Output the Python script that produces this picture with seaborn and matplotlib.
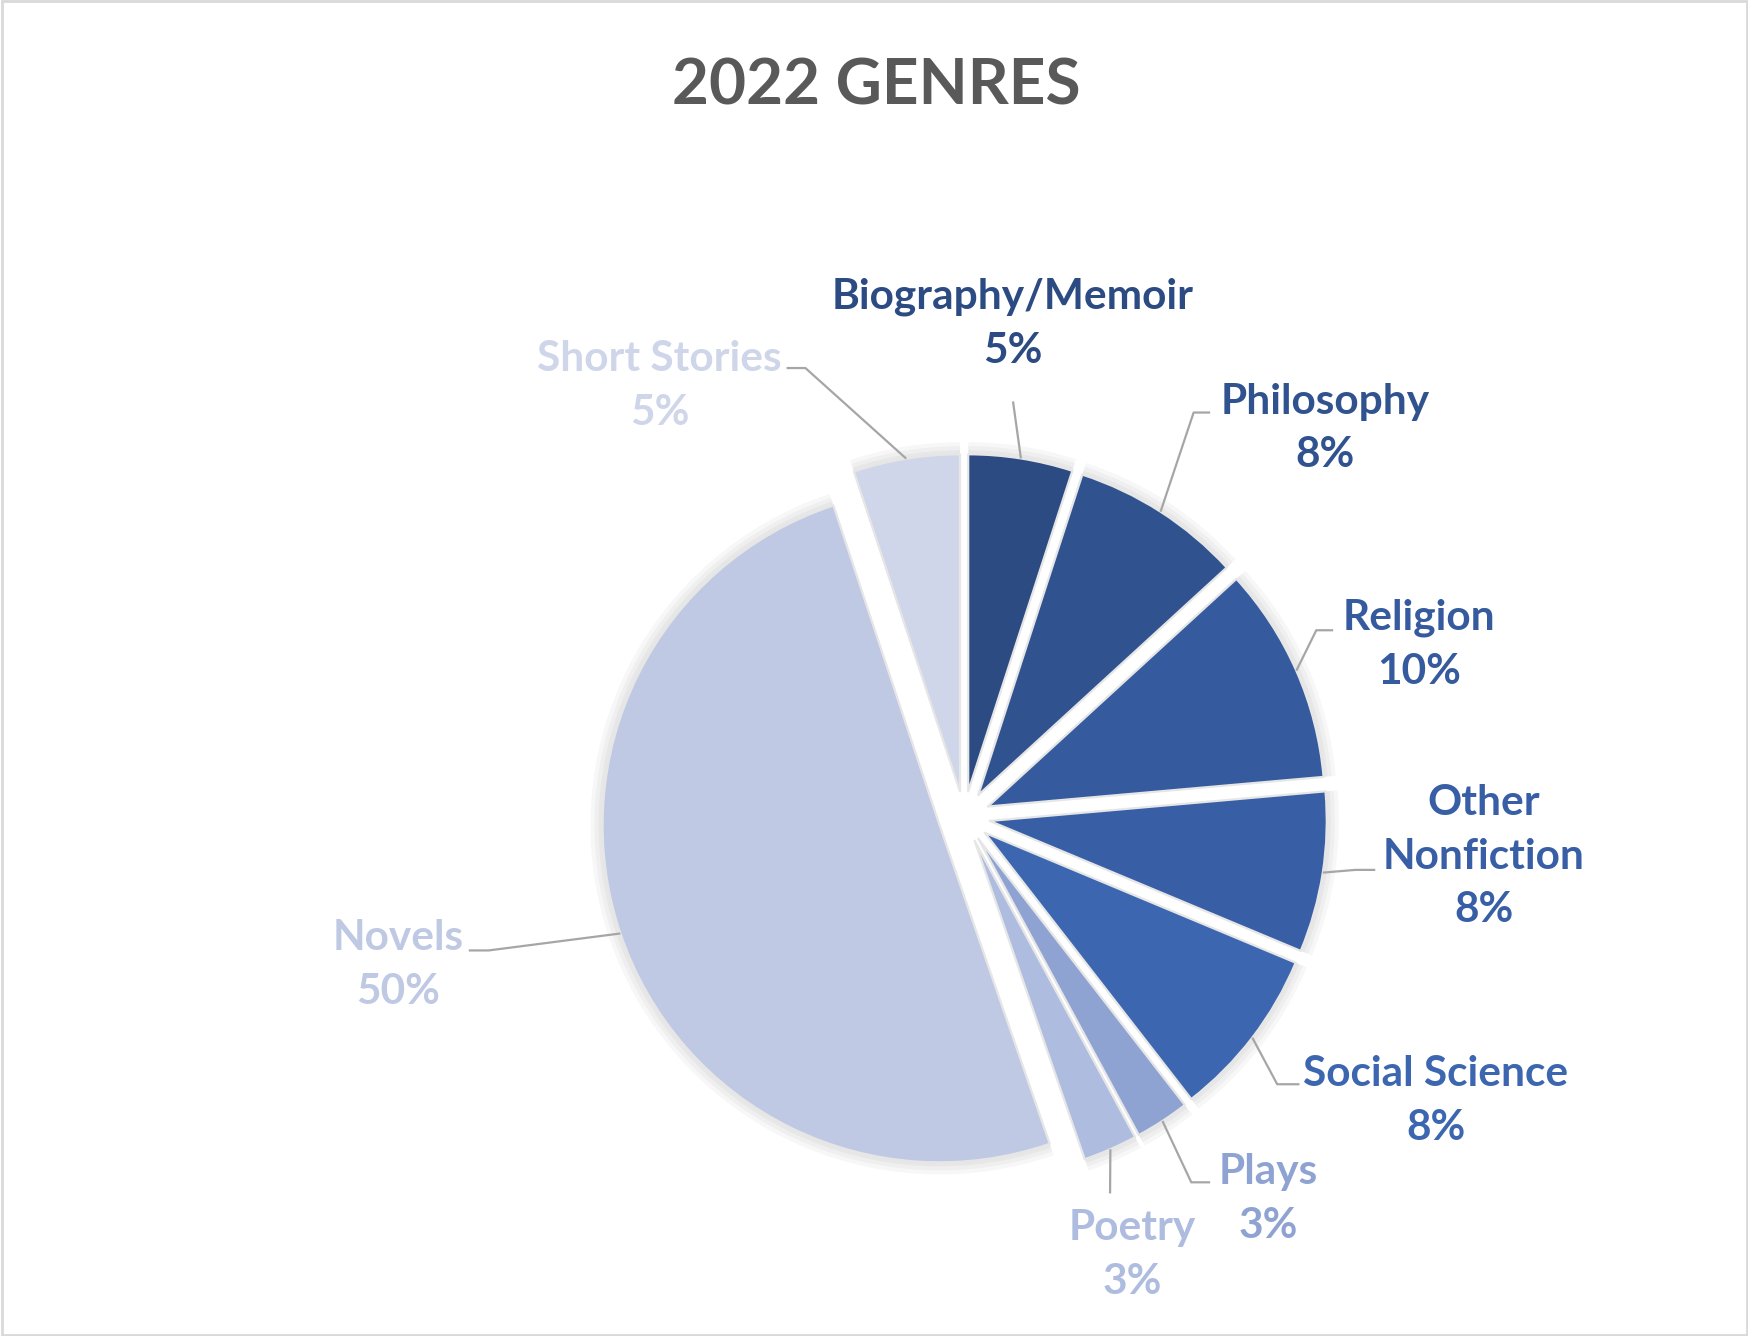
import matplotlib
matplotlib.use("Agg")
import matplotlib.pyplot as plt
import numpy as np
import seaborn as sns

# data (share of books read per genre, %)
genres = ["Biography/Memoir", "Philosophy", "Religion", "Other\nNonfiction",
          "Social Science", "Plays", "Poetry", "Novels", "Short Stories"]
shares = [5.0, 8.2, 10.4, 7.7, 8.2, 2.6, 2.6, 50.2, 5.1]

colors = ["#2b4b82", "#30538f", "#355a9e", "#385fa6", "#3c67b0",
          "#8fa3d3", "#adbcdf", "#bfc9e3", "#cfd6ea"]

# label layout in pie-radius units: text centre, elbow point, end of short horizontal run
label_pos = [(0.145, 1.464), (1.071, 1.153), (1.349, 0.511), (1.542, -0.118),
             (1.399, -0.842), (0.903, -1.134), (0.499, -1.299), (-1.679, -0.439),
             (-0.904, 1.279)]
leader_pts = [
    [(0.145, 1.233)],
    [(0.681, 1.200), (0.730, 1.200)],
    [(1.045, 0.554), (1.095, 0.554)],
    [(1.161, -0.157), (1.220, -0.157)],
    [(0.929, -0.793), (0.995, -0.793)],
    [(0.674, -1.084), (0.730, -1.084)],
    [(0.433, -1.117)],
    [(-1.411, -0.396), (-1.470, -0.396)],
    [(-0.471, 1.332), (-0.527, 1.332)],
]

sns.set_theme(style="white")
plt.rcParams["font.family"] = ["Lato", "DejaVu Sans"]

fig = plt.figure(figsize=(17.49, 13.36), dpi=100)
ax = fig.add_axes([0, 0, 1, 1])

explode = [0.077] * len(shares)

# faint glow behind the slices (soft shadow like the original)
for rad in [1.036, 1.024, 1.012]:
    ax.pie(shares, startangle=90, counterclock=False, radius=rad,
           explode=explode, colors=[(0, 0, 0, 0.03)] * len(shares),
           wedgeprops=dict(linewidth=0))

wedges, _ = ax.pie(shares, startangle=90, counterclock=False, radius=1.0,
                   explode=explode, colors=colors,
                   wedgeprops=dict(edgecolor="#e6e6e6", linewidth=1.6, joinstyle="round"))

for w, name, val, col, (tx, ty), pts in zip(wedges, genres, shares, colors,
                                            label_pos, leader_pts):
    mid = np.deg2rad((w.theta1 + w.theta2) / 2)
    sx = w.center[0] + w.r * np.cos(mid)
    sy = w.center[1] + w.r * np.sin(mid)
    xs = [sx] + [p[0] for p in pts]
    ys = [sy] + [p[1] for p in pts]
    ax.plot(xs, ys, color="#a6a6a6", lw=1.6, solid_capstyle="butt", zorder=1)
    ax.text(tx, ty, f"{name}\n{val:.0f}%", ha="center", va="center",
            color=col, fontsize=30.5, fontweight="bold", linespacing=1.5)

ax.set_aspect("auto")
ax.set_xlim(-2.861, 2.329)
ax.set_ylim(-1.540, 2.424)
ax.axis("off")

fig.text(0.501, 0.936, "2022 GENRES", ha="center", va="center",
         fontsize=46, fontweight="bold", color="#595959")

fig.patches.append(plt.Rectangle((0.001, 0.001), 0.998, 0.998, transform=fig.transFigure,
                                 fill=False, edgecolor="#d9d9d9", lw=2))

fig.savefig("out.png", dpi=100)
